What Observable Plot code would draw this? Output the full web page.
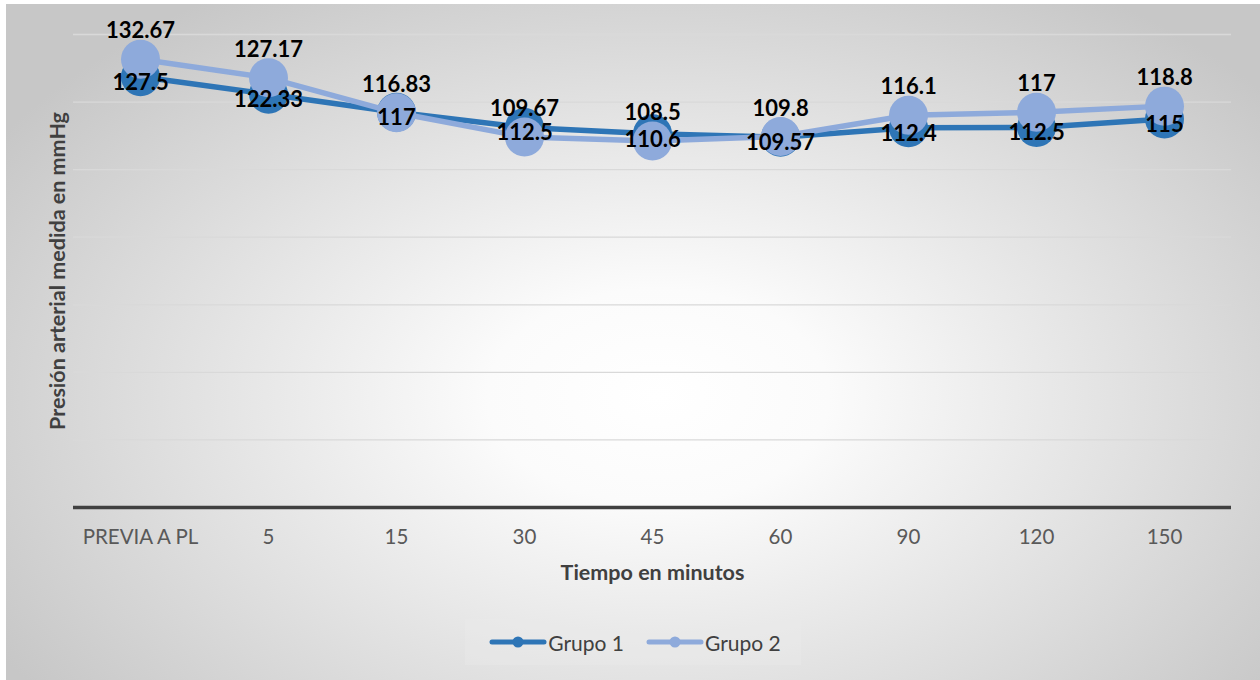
<!DOCTYPE html>
<html>
<head>
<meta charset="utf-8">
<script src="https://cdn.jsdelivr.net/npm/d3@7"></script>
<script src="https://cdn.jsdelivr.net/npm/@observablehq/plot@0.6"></script>
<style>
  html, body { margin: 0; padding: 0; background: #ffffff; }
  #panel {
    position: absolute; left: 6px; top: 4px; width: 1254px; height: 676px;
    background: radial-gradient(ellipse 62% 72% at 52% 58%, #ffffff 0%, #fbfbfb 22%, #e3e3e3 58%, #c7c7c7 100%);
    font-family: Lato, "Open Sans", sans-serif;
  }
  #legend {
    display: flex; justify-content: center; margin-top: 25px;
  }
  #legend .box {
    display: flex; align-items: center; gap: 22px;
    height: 46px; padding: 0 20px 0 24px; box-sizing: border-box;
    background: rgba(236, 236, 236, 0.35);
  }
  #legend .item { display: flex; align-items: center; gap: 1px; color: #404040; font-size: 21px; }
</style>
</head>
<body>
<div id="panel">
  <div id="chart"></div>
  <div id="legend"></div>
</div>
<script>
// Presión arterial media por tiempo de medición
const tiempos = ["PREVIA A PL", "5", "15", "30", "45", "60", "90", "120", "150"];
const grupo1 = [127.5, 122.33, 117, 112.5, 110.6, 109.57, 112.4, 112.5, 115];
const grupo2 = [132.67, 127.17, 116.83, 109.67, 108.5, 109.8, 116.1, 117, 118.8];
const series = ["Grupo 1", "Grupo 2"];
const yTicks = [20, 40, 60, 80, 100, 120, 140];
const xTitle = "Tiempo en minutos";
const yTitle = "Presión arterial medida en mmHg";

const colores = { "Grupo 1": "#2e75b6", "Grupo 2": "#8eaadb" };

const rows1 = tiempos.map((t, i) => ({ t, v: grupo1[i], s: series[0] }));
const rows2 = tiempos.map((t, i) => ({ t, v: grupo2[i], s: series[1] }));

const fmt = v => String(v);

const chart = Plot.plot({
  width: 1254,
  height: 590,
  marginLeft: 67,
  marginRight: 29,
  marginTop: 30,
  marginBottom: 87,
  style: { background: "transparent", fontFamily: "Lato, 'Open Sans', sans-serif" },
  x: { type: "point", domain: tiempos, padding: 0.5, label: null },
  y: { domain: [0, 140], axis: null },
  marks: [
    Plot.gridY(yTicks, { stroke: "#d9d9d9", strokeOpacity: 1, strokeWidth: 1.3 }),
    Plot.ruleY([0], { stroke: "#404040", strokeWidth: 3.5 }),
    Plot.axisX({ tickSize: 0, tickPadding: 22, fontSize: 20.5, color: "#595959", label: null }),
    Plot.text([xTitle], { frameAnchor: "bottom", dy: 72, fontSize: 21.5, fontWeight: "bold", fill: "#404040" }),
    Plot.text([yTitle], { frameAnchor: "left", textAnchor: "middle", dx: -15, rotate: -90, fontSize: 21.5, fontWeight: "bold", fill: "#404040" }),
    // Grupo 1
    Plot.line(rows1, { x: "t", y: "v", stroke: colores["Grupo 1"], strokeWidth: 5.5 }),
    Plot.dot(rows1, { x: "t", y: "v", r: 19.5, fill: colores["Grupo 1"], stroke: "none" }),
    // Grupo 2
    Plot.line(rows2, { x: "t", y: "v", stroke: colores["Grupo 2"], strokeWidth: 5.5 }),
    Plot.dot(rows2, { x: "t", y: "v", r: 19.5, fill: colores["Grupo 2"], stroke: "none" }),
    // Etiquetas de valores
    Plot.text(rows1, { x: "t", y: "v", text: d => fmt(d.v), dy: 6, fontSize: 22, fontWeight: "bold", fill: "#000000" }),
    Plot.text(rows2, { x: "t", y: "v", text: d => fmt(d.v), dy: -28, fontSize: 22, fontWeight: "bold", fill: "#000000" })
  ]
});
document.getElementById("chart").appendChild(chart);

// Leyenda
const box = document.createElement("div");
box.className = "box";
for (const s of series) {
  const item = document.createElement("div");
  item.className = "item";
  item.innerHTML =
    `<svg width="58" height="16"><line x1="3" y1="8" x2="55" y2="8" stroke="${colores[s]}" stroke-width="5" stroke-linecap="round"/>` +
    `<circle cx="29" cy="8" r="5.5" fill="${colores[s]}"/></svg><span>${s}</span>`;
  box.appendChild(item);
}
document.getElementById("legend").appendChild(box);
</script>
</body>
</html>
